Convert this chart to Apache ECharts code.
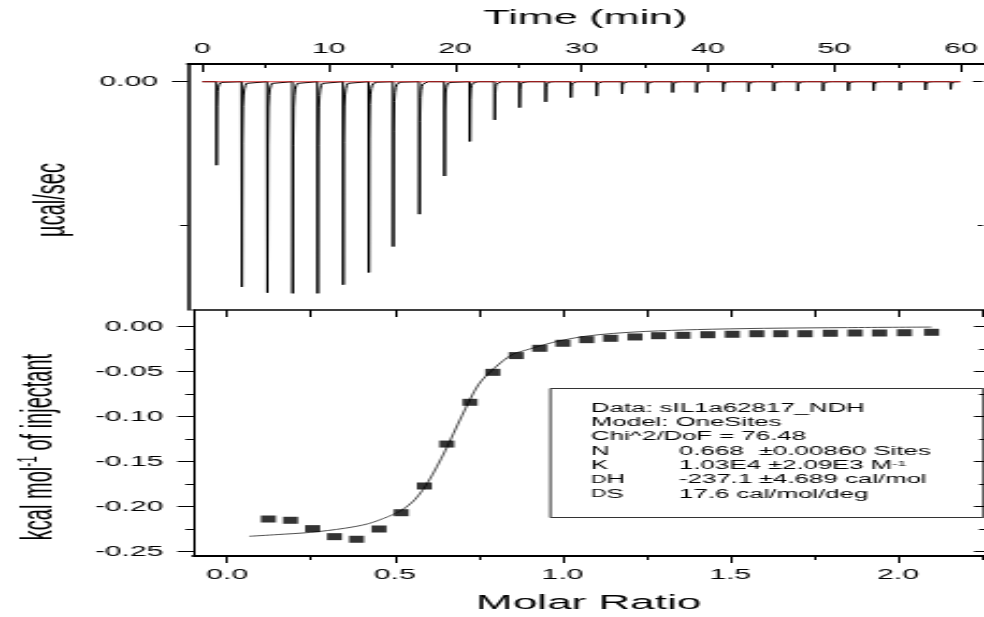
<!DOCTYPE html>
<html>
<head>
<meta charset="utf-8">
<script src="https://cdn.jsdelivr.net/npm/echarts@6/dist/echarts.min.js"></script>
<style>
  html, body { margin: 0; padding: 0; background: #fff; overflow: hidden; }
  #wrap { width: 984px; height: 617px; overflow: hidden; }
  /* the plot is drawn on a narrower canvas and widened horizontally */
  #chart { width: 458px; height: 617px; transform: scaleX(2.148472); transform-origin: 0 0; }
</style>
</head>
<body>
<div id="wrap"><div id="chart"></div></div>
<script>
// ---------- raw thermogram (upper panel) ----------
const injectionTimes = [1.13, 3.13, 5.15, 7.15, 9.13, 11.15, 13.17, 15.10, 17.17, 19.16,
                        21.16, 23.13, 25.10, 27.16, 29.16, 31.20, 33.20, 35.20, 37.20, 39.10,
                        41.20, 43.20, 45.20, 47.10, 49.10, 51.10, 53.10, 55.20, 57.20, 59.20];
const peakPower = [-0.116, -0.285, -0.293, -0.294, -0.294, -0.282, -0.265, -0.229, -0.184, -0.131,
                   -0.083, -0.053, -0.036, -0.028, -0.022, -0.020, -0.017, -0.016, -0.015, -0.015,
                   -0.014, -0.014, -0.013, -0.013, -0.013, -0.0125, -0.0125, -0.012, -0.0115, -0.0106];
// shape of one injection peak: minutes from the peak, share of the peak depth
const peakShapeOffset = [-0.03, 0, 0.04, 0.08, 0.13, 0.19, 0.27, 0.37, 0.50, 0.70];
const peakShapeShare  = [0, 1, 0.30, 0.12, 0.065, 0.035, 0.018, 0.008, 0.003, 0];
const traceStart = 0;
const traceEnd = 60;
const baselineTime = [0, 60];
const baselinePower = [0, 0];

// ---------- integrated heats (lower panel) ----------
const molarRatio = [0.123, 0.189, 0.255, 0.320, 0.386, 0.453, 0.519, 0.588, 0.655, 0.724,
                    0.792, 0.862, 0.932, 1.001, 1.072, 1.143, 1.216, 1.286, 1.359, 1.433,
                    1.506, 1.579, 1.650, 1.723, 1.798, 1.872, 1.945, 2.019, 2.100];
const heatPerMol = [-0.2137, -0.2151, -0.2244, -0.2333, -0.2362, -0.2248, -0.2067, -0.1770, -0.1304, -0.0840,
                    -0.0507, -0.0321, -0.0240, -0.0184, -0.0144, -0.0129, -0.0114, -0.0100, -0.0096, -0.0089,
                    -0.0084, -0.0078, -0.0078, -0.0078, -0.0073, -0.0070, -0.0070, -0.0067, -0.0062];
const fitRatio = [0.066, 0.15, 0.25, 0.35, 0.42, 0.48, 0.52, 0.56, 0.60, 0.65, 0.70, 0.75, 0.80,
                  0.85, 0.90, 0.95, 1.00, 1.07, 1.15, 1.25, 1.40, 1.60, 1.85, 2.10];
const fitHeat = [-0.2329, -0.2310, -0.2285, -0.2240, -0.2190, -0.2110, -0.2040, -0.1920, -0.1720, -0.1380,
                 -0.0990, -0.0640, -0.0450, -0.0310, -0.0250, -0.0195, -0.0150, -0.0105, -0.0075, -0.0052,
                 -0.0032, -0.0018, -0.0010, -0.0004];

// ---------- tick labels ----------
const timeTicks = [0, 10, 20, 30, 40, 50, 60];
const timeMinorTicks = [5, 15, 25, 35, 45, 55];
const powerTicks = [0];
const powerMinorTicks = [-0.2];
const ratioTicks = [0, 0.5, 1.0, 1.5, 2.0];
const ratioMinorTicks = [0.25, 0.75, 1.25, 1.75, 2.25];
const ratioAllTicks = [0, 0.25, 0.5, 0.75, 1.0, 1.25, 1.5, 1.75, 2.0, 2.25];
const heatTicks = [0, -0.05, -0.10, -0.15, -0.20, -0.25];
const heatMinorTicks = [-0.025, -0.075, -0.125, -0.175, -0.225];

// ---------- fit report ----------
const reportHead = ['Data: sIL1a62817_NDH', 'Model: OneSites', 'Chi^2/DoF = 76.48'];
const reportNames = ['N', 'K', '{d|D}H', '{d|D}S'];
const reportValues = ['0.668', '1.03E4 ±2.09E3 M{sup|-1}', '-237.1', '17.6 cal/mol/deg'];
const reportErrors = ['±0.00860 Sites', '', '±4.689 cal/mol', ''];

// ---------- layout ----------
const SX = 984 / 458;               // horizontal widening of the canvas
const px = x => x / SX;             // page x -> canvas x
const FONT = '"Liberation Sans", Arial, Helvetica, sans-serif';
const BLACK = '#000';

// build the thermogram trace
const trace = [[traceStart, 0]];
injectionTimes.forEach((t, i) => {
  peakShapeOffset.forEach((o, j) => {
    trace.push([t + o, peakPower[i] * peakShapeShare[j]]);
  });
});
trace.push([traceEnd, 0]);

const chart = echarts.init(document.getElementById('chart'), null, { renderer: 'canvas' });

const gridLeft = px(188);
const gridWidth = px(985) - px(188);

function tickAxis(base, ticks, length, inside, opts) {
  return Object.assign({
    type: 'value',
    axisLine: { show: false, onZero: false },
    axisTick: { show: true, inside: inside, length: length, customValues: ticks,
                lineStyle: { color: BLACK, width: 1 } },
    axisLabel: { show: false },
    splitLine: { show: false },
    minorTick: { show: false }
  }, base, opts || {});
}

const timeRange = { min: -1.13, max: 61.74 };
const ratioRange = { min: -0.1005, max: 2.2564 };
const powerRange = { min: -0.3171, max: 0.0246 };
const heatRange = { min: -0.2548, max: 0.01856 };

const labelStyle = { color: BLACK, fontFamily: FONT, fontSize: 14 };

const xAxes = [
  // time, upper panel top edge
  tickAxis(Object.assign({ gridIndex: 0, position: 'top' }, timeRange), timeTicks, 8, true, {
    axisLine: { show: true, onZero: false, lineStyle: { color: BLACK, width: 2 } },
    axisLabel: Object.assign({ show: true, customValues: timeTicks, margin: 8,
                               formatter: v => String(v) }, labelStyle),
    name: 'Time (min)', nameLocation: 'middle', nameGap: 36,
    nameTextStyle: { color: BLACK, fontFamily: FONT, fontSize: 20 }
  }),
  tickAxis(Object.assign({ gridIndex: 0, position: 'top' }, timeRange), timeMinorTicks, 4, true),
  // molar ratio, lower panel bottom edge
  tickAxis(Object.assign({ gridIndex: 1, position: 'bottom' }, ratioRange), ratioTicks, 7, false, {
    axisLine: { show: true, onZero: false, lineStyle: { color: BLACK, width: 2 } },
    axisLabel: Object.assign({ show: true, customValues: ratioTicks, margin: 12,
                               formatter: v => v.toFixed(1) }, labelStyle),
    name: 'Molar Ratio', nameLocation: 'middle', nameGap: 37,
    nameTextStyle: { color: BLACK, fontFamily: FONT, fontSize: 20.5 }
  }),
  tickAxis(Object.assign({ gridIndex: 1, position: 'bottom' }, ratioRange), ratioMinorTicks, 4, false),
  // molar ratio ticks along the panel divider
  tickAxis(Object.assign({ gridIndex: 1, position: 'top' }, ratioRange), ratioAllTicks, 7, true, {
    axisLine: { show: true, onZero: false, lineStyle: { color: BLACK, width: 1.5 } }
  })
];

const yAxes = [
  // upper panel, left
  tickAxis(Object.assign({ gridIndex: 0, position: 'left' }, powerRange), powerTicks, px(16), false, {
    axisLine: { show: true, onZero: false, lineStyle: { color: BLACK, width: 1.5 } },
    axisLabel: Object.assign({ show: true, customValues: powerTicks, margin: px(30),
                               formatter: v => v.toFixed(2) }, labelStyle),
    name: 'µcal/sec', nameLocation: 'middle', nameGap: 53,
    nameTextStyle: { color: BLACK, fontFamily: FONT, fontSize: 20, padding: [0, 26, 0, 0] }
  }),
  tickAxis(Object.assign({ gridIndex: 0, position: 'left' }, powerRange), powerMinorTicks, px(8), false),
  // upper panel, right
  tickAxis(Object.assign({ gridIndex: 0, position: 'right' }, powerRange), powerTicks, px(10), true),
  tickAxis(Object.assign({ gridIndex: 0, position: 'right' }, powerRange), powerMinorTicks, px(5), true),
  // lower panel, left
  tickAxis(Object.assign({ gridIndex: 1, position: 'left' }, heatRange), heatTicks, px(16), false, {
    axisLine: { show: true, onZero: false, lineStyle: { color: BLACK, width: 1 } },
    axisLabel: Object.assign({ show: true, customValues: heatTicks, margin: px(30),
                               formatter: v => v.toFixed(2) }, labelStyle),
    name: 'kcal mol{sup|-1} of injectant', nameLocation: 'middle', nameGap: 62,
    nameTextStyle: { color: BLACK, fontFamily: FONT, fontSize: 20, padding: [0, 28, 0, 0],
                     rich: { sup: { fontSize: 12, fontFamily: FONT, color: BLACK, verticalAlign: 'top' } } }
  }),
  tickAxis(Object.assign({ gridIndex: 1, position: 'left' }, heatRange), heatMinorTicks, px(8), false),
  // lower panel, right
  tickAxis(Object.assign({ gridIndex: 1, position: 'right' }, heatRange), heatTicks, px(10), true),
  tickAxis(Object.assign({ gridIndex: 1, position: 'right' }, heatRange), heatMinorTicks, px(5), true)
];

// fit report box
const boxLeft = px(545), boxTop = 386, boxW = px(978) - px(545), boxH = 129;
const rowY = i => 408.5 + i * 14.3;
const reportText = { fontFamily: FONT, fontSize: 12, fill: BLACK, verticalAlign: 'middle',
                     rich: { sup: { fontSize: 7.5, fontFamily: FONT, verticalAlign: 'top' },
                             d: { fontSize: 10, fontFamily: FONT } } };
const graphics = [{
  type: 'rect', left: boxLeft, top: boxTop, silent: true,
  shape: { width: boxW, height: boxH },
  style: { fill: null, stroke: '#333', lineWidth: 1 }
}];
reportHead.forEach((t, i) => {
  graphics.push({ type: 'text', x: px(591), y: rowY(i), silent: true,
                  style: Object.assign({ text: t }, reportText) });
});
reportNames.forEach((t, i) => {
  graphics.push({ type: 'text', x: px(591), y: rowY(i + 3), silent: true,
                  style: Object.assign({ text: t }, reportText) });
  graphics.push({ type: 'text', x: px(679), y: rowY(i + 3), silent: true,
                  style: Object.assign({ text: reportValues[i] }, reportText) });
  if (reportErrors[i]) {
    graphics.push({ type: 'text', x: px(759), y: rowY(i + 3), silent: true,
                    style: Object.assign({ text: reportErrors[i] }, reportText) });
  }
});

chart.setOption({
  animation: false,
  backgroundColor: '#fff',
  grid: [
    { left: gridLeft, top: 64, width: gridWidth, height: 246 },
    { left: gridLeft, top: 310, width: gridWidth, height: 246 }
  ],
  xAxis: xAxes,
  yAxis: yAxes,
  graphic: graphics,
  series: [
    {
      type: 'line', name: 'power', xAxisIndex: 0, yAxisIndex: 0,
      data: trace, showSymbol: false, silent: true,
      lineStyle: { color: BLACK, width: 1 }
    },
    {
      type: 'line', name: 'baseline', xAxisIndex: 0, yAxisIndex: 0,
      data: baselineTime.map((t, i) => [t, baselinePower[i]]), showSymbol: false, silent: true,
      lineStyle: { color: '#d01010', width: 0.8 }, z: 3
    },
    {
      type: 'line', name: 'fit', xAxisIndex: 2, yAxisIndex: 4,
      data: fitRatio.map((r, i) => [r, fitHeat[i]]), showSymbol: false, silent: true,
      smooth: 0.3,
      lineStyle: { color: '#222', width: 0.8 }
    },
    {
      type: 'scatter', name: 'heat', xAxisIndex: 2, yAxisIndex: 4,
      data: molarRatio.map((r, i) => [r, heatPerMol[i]]), silent: true,
      symbol: 'rect', symbolSize: [px(15), 7],
      itemStyle: { color: BLACK }, z: 4
    }
  ]
});
</script>
</body>
</html>
